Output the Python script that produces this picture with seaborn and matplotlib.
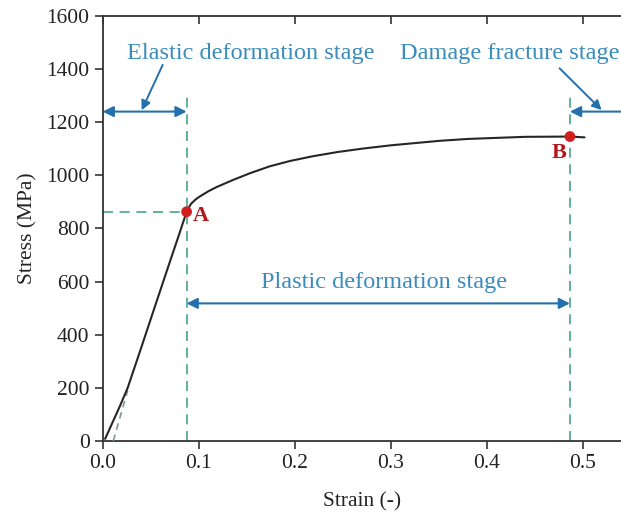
import matplotlib
matplotlib.use("Agg")
import matplotlib.pyplot as plt
import seaborn as sns
import pandas as pd

# Engineering stress-strain curve
strain = [0.0025, 0.010, 0.018, 0.026, 0.040, 0.055, 0.0701, 0.080,
          0.0874, 0.092, 0.097, 0.1014, 0.110, 0.1187, 0.136, 0.1534, 0.174,
          0.195, 0.219, 0.245, 0.2715, 0.30, 0.33, 0.351, 0.38, 0.41, 0.44,
          0.4868, 0.502]
stress = [8, 68, 132, 200, 350, 513, 676, 782,
          863, 893, 910, 921, 940, 956, 983, 1008, 1034,
          1054, 1072, 1088, 1101, 1113, 1123, 1130, 1137, 1141, 1145,
          1146, 1143]

# Elastic fit line
fit_strain = [0.011, 0.026]
fit_stress = [0, 190]

# Characteristic points: A = yield, B = fracture onset
point_labels = ["A", "B"]
point_strain = [0.0874, 0.4868]
point_stress = [863, 1146]

# Stage labels
stage_names = ["Elastic deformation stage", "Plastic deformation stage",
               "Damage fracture stage"]

x_ticks = [0.0, 0.1, 0.2, 0.3, 0.4, 0.5]
y_ticks = [0, 200, 400, 600, 800, 1000, 1200, 1400, 1600]

sns.set_theme(style="ticks")
plt.rcParams["font.family"] = ["Liberation Serif", "DejaVu Serif"]

fig = plt.figure(figsize=(6.21, 5.15), dpi=100)
ax = fig.add_axes([0.1654, 0.1437, 0.8346, 0.8253])

text_col = "#3a8cbc"
arrow_col = "#2370ad"
dash_col = "#45a38c"
red = "#d11f1f"
label_red = "#b3161b"

df = pd.DataFrame({"Strain": strain, "Stress": stress})
sns.lineplot(data=df, x="Strain", y="Stress", ax=ax, color="#262626",
             linewidth=1.5, zorder=4)
ax.plot(fit_strain, fit_stress, color="#7d9b92", linewidth=1.2,
        linestyle=(0, (4, 3)), zorder=3)

# Guide lines through A and B
ya = point_stress[0]
ax.plot([point_strain[0], point_strain[0]], [0, 1300], color=dash_col,
        linewidth=1.2, linestyle=(0, (6, 4)), zorder=2)
ax.plot([point_strain[1], point_strain[1]], [0, 1300], color=dash_col,
        linewidth=1.2, linestyle=(0, (6, 4)), zorder=2)
ax.plot([0, point_strain[0]], [ya, ya], color=dash_col,
        linewidth=1.2, linestyle=(0, (6, 4)), zorder=2)

sns.scatterplot(x=point_strain, y=point_stress, ax=ax, color=red, s=60,
                edgecolor="none", zorder=6)
ax.text(point_strain[0] + 0.006, point_stress[0] - 15, point_labels[0],
        color=label_red, fontsize=16, fontweight="bold", va="center", ha="left")
ax.text(point_strain[1] - 0.011, point_stress[1] - 62, point_labels[1],
        color=label_red, fontsize=16, fontweight="bold", va="center", ha="center")

arrow_kw = dict(arrowstyle="<|-|>", color=arrow_col, lw=1.5,
                mutation_scale=16, shrinkA=0, shrinkB=0)
# Elastic stage span
ax.annotate("", xy=(0.0, 1240), xytext=(point_strain[0], 1240),
            arrowprops=arrow_kw)
# Plastic stage span
ax.annotate("", xy=(point_strain[0], 518), xytext=(point_strain[1], 518),
            arrowprops=arrow_kw)
# Damage stage span (continues past the right edge)
ax.annotate("", xy=(point_strain[1], 1240), xytext=(0.56, 1240),
            arrowprops=dict(arrowstyle="-|>", color=arrow_col, lw=1.5,
                            mutation_scale=16, shrinkA=0, shrinkB=0),
            annotation_clip=False)

# Pointers from labels to spans
ax.annotate("", xy=(0.0406, 1245), xytext=(0.0625, 1416),
            arrowprops=dict(arrowstyle="-|>", color=arrow_col, lw=1.4,
                            mutation_scale=14, shrinkA=0, shrinkB=0))
ax.annotate("", xy=(0.5198, 1246), xytext=(0.476, 1403),
            arrowprops=dict(arrowstyle="-|>", color=arrow_col, lw=1.4,
                            mutation_scale=14, shrinkA=0, shrinkB=0))

ax.text(0.154, 1457, stage_names[0], color=text_col, fontsize=17.5,
        ha="center", va="center")
ax.text(0.293, 597, stage_names[1], color=text_col, fontsize=17.5,
        ha="center", va="center")
ax.text(0.424, 1457, stage_names[2], color=text_col, fontsize=17.5,
        ha="center", va="center", clip_on=False)

ax.set_xlim(0, 0.54)
ax.set_ylim(0, 1600)
ax.set_xticks(x_ticks)
ax.set_xticklabels([f"{v:.1f}" for v in x_ticks])
ax.set_yticks(y_ticks)
ax.set_yticklabels([str(v) for v in y_ticks])
ax.set_xlabel("Strain (-)", fontsize=15.5, labelpad=14, color="#222222")
ax.set_ylabel("Stress (MPa)", fontsize=15.5, labelpad=6, color="#222222")

for side in ["left", "bottom", "top"]:
    ax.spines[side].set_visible(True)
    ax.spines[side].set_color("#333333")
    ax.spines[side].set_linewidth(1.3)
ax.spines["right"].set_visible(False)

ax.tick_params(axis="both", which="major", labelsize=15.5, direction="out",
               length=6, width=1.2, color="#333333", labelcolor="#222222")
ax.tick_params(axis="x", top=True, labeltop=False)
# top ticks point inward
for tick in ax.xaxis.get_major_ticks():
    tick.tick2line.set_marker(3)  # TICKDOWN
    tick.tick2line.set_markersize(6)

fig.savefig("out.png", dpi=100, facecolor="white")
